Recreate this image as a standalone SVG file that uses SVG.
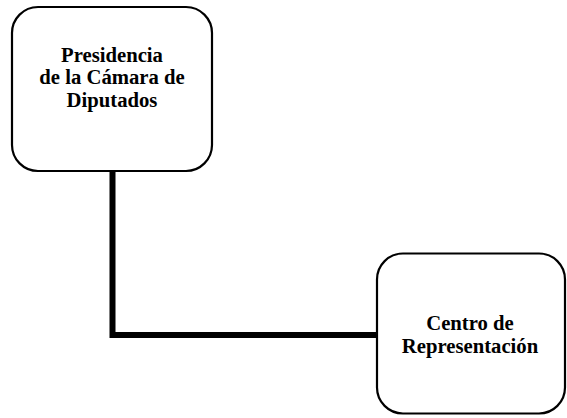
<svg xmlns="http://www.w3.org/2000/svg" width="567" height="418" viewBox="0 0 567 418">
<style>
.box{fill:#fff;stroke:#000;stroke-width:2.2}
.lbl{font-family:"Liberation Serif","Times New Roman",serif;font-weight:bold;font-size:20.7px;fill:#000;text-anchor:middle}
.conn{fill:none;stroke:#000;stroke-width:6;stroke-linejoin:miter}
</style>
<rect width="567" height="418" fill="#fff"/>
<g id="connectors">
<path class="conn" d="M112.5 171 V335 H378"/>
</g>
<g id="node-presidencia">
<rect class="box" x="12" y="7" width="200" height="164" rx="26" ry="26"/>
<text class="lbl" x="112" y="61.5">Presidencia</text>
<text class="lbl" x="112" y="84">de la Cámara de</text>
<text class="lbl" x="112" y="106.5">Diputados</text>
</g>
<g id="node-centro">
<rect class="box" x="377" y="253.5" width="188" height="160" rx="26" ry="26"/>
<text class="lbl" x="470" y="330">Centro de</text>
<text class="lbl" x="470" y="352.5">Representación</text>
</g>
</svg>
